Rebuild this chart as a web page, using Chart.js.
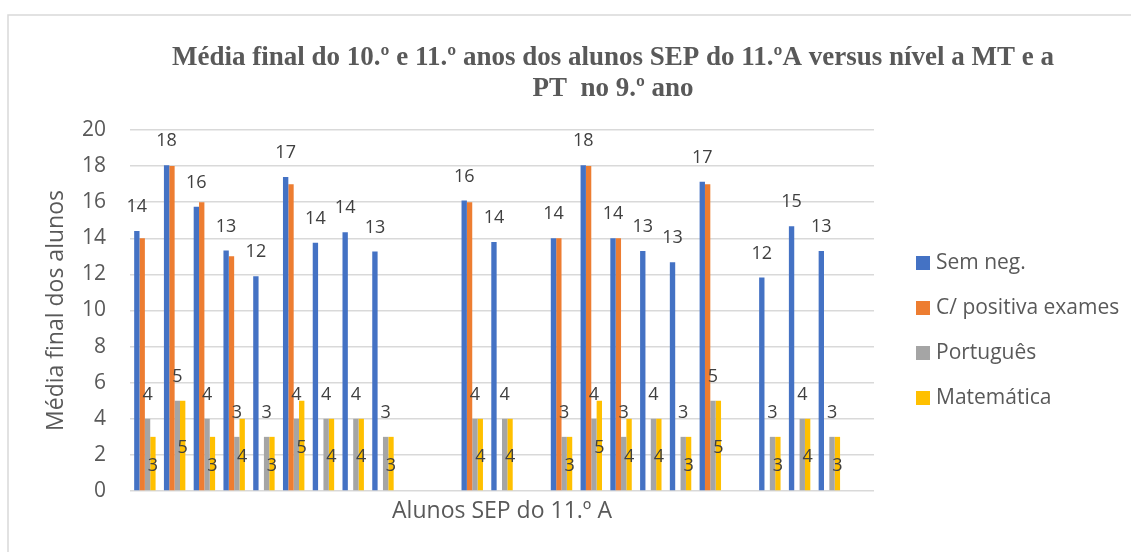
<!DOCTYPE html>
<html>
<head>
<meta charset="utf-8">
<script src="https://cdn.jsdelivr.net/npm/chart.js@4.4.1/dist/chart.umd.min.js"></script>
<style>
  html, body { margin: 0; padding: 0; background: #fff; overflow: hidden; }
  #wrap { position: relative; width: 1131px; height: 552px; }
</style>
</head>
<body>
<div id="wrap"><canvas id="chart"></canvas></div>
<script>
// students (no labels shown on the axis in the original)
const categories = ["1", "2", "3", "4", "5", "6", "7", "8", "9", "10", "11", "12", "13",
  "14", "15", "16", "17", "18", "19", "20", "21", "22", "23", "24", "25"];

// values
const semNeg = [14.4, 18.05, 15.75, 13.33, 11.9, 17.4, 13.75, 14.33, 13.27, null, null, 16.1, 13.8,
  null, 14, 18.05, 14, 13.3, 12.67, 17.13, null, 11.83, 14.67, 13.3, null];
const positivaExames = [14, 18, 16, 13, null, 17, null, null, null, null, null, 16, null,
  null, 14, 18, 14, null, null, 17, null, null, null, null, null];
const portugues = [4, 5, 4, 3, 3, 4, 4, 4, 3, null, null, 4, 4,
  null, 3, 4, 3, 4, 3, 5, null, 3, 4, 3, null];
const matematica = [3, 5, 3, 4, 3, 5, 4, 4, 3, null, null, 4, 4,
  null, 3, 5, 4, 4, 3, 5, null, 3, 4, 3, null];

const seriesNames = ["Sem neg.", "C/ positiva exames", "Português", "Matemática"];
const yTicks = [0, 2, 4, 6, 8, 10, 12, 14, 16, 18, 20];

const titleLines = ["Média final do 10.º e 11.º anos dos alunos SEP do 11.ºA versus nível a MT e a", "PT  no 9.º ano"];

Chart.defaults.font.family = "'Open Sans', sans-serif";
Chart.defaults.color = "#595959";

// frame, title and legend (Excel style)
const decorations = {
  id: "decorations",
  beforeDraw(chart) {
    const ctx = chart.ctx;
    ctx.save();
    ctx.strokeStyle = "#d9d9d9";
    ctx.lineWidth = 1.5;
    ctx.beginPath();
    ctx.moveTo(8, chart.height);
    ctx.lineTo(8, 15);
    ctx.lineTo(chart.width, 15);
    ctx.stroke();
    ctx.restore();
  },
  afterDraw(chart) {
    const ctx = chart.ctx;
    ctx.save();
    // title
    ctx.fillStyle = "#595959";
    ctx.font = "bold 27px 'Liberation Serif', serif";
    ctx.textAlign = "center";
    ctx.textBaseline = "alphabetic";
    titleLines.forEach((line, i) => ctx.fillText(line, 613, 65 + i * 31));
    // legend
    ctx.font = "21px 'Open Sans', sans-serif";
    ctx.textAlign = "left";
    ctx.textBaseline = "middle";
    chart.data.datasets.forEach((ds, i) => {
      const y = 263 + i * 45;
      ctx.fillStyle = ds.backgroundColor;
      ctx.fillRect(916, y - 7, 14, 14);
      ctx.fillStyle = "#595959";
      ctx.fillText(ds.label, 936, y);
    });
    ctx.restore();
  }
};

// data labels: blue and grey above the bar, yellow centred in the bar
const dataLabels = {
  id: "dataLabels",
  afterDatasetsDraw(chart) {
    const ctx = chart.ctx;
    ctx.save();
    ctx.font = "18px 'Open Sans', sans-serif";
    ctx.fillStyle = "#404040";
    ctx.textAlign = "center";
    ctx.textBaseline = "middle";
    [0, 2, 3].forEach(di => {
      const meta = chart.getDatasetMeta(di);
      const values = chart.data.datasets[di].data;
      meta.data.forEach((bar, i) => {
        const v = values[i];
        if (v === null || v === undefined) return;
        const txt = String(Math.round(v));
        const y = di === 3 ? (bar.y + bar.base) / 2 + 2 : bar.y - 24;
        ctx.fillText(txt, bar.x, y);
      });
    });
    ctx.restore();
  }
};

new Chart(document.getElementById("chart"), {
  type: "bar",
  data: {
    labels: categories,
    datasets: [
      { label: seriesNames[0], data: semNeg, backgroundColor: "#4472C4" },
      { label: seriesNames[1], data: positivaExames, backgroundColor: "#ED7D31" },
      { label: seriesNames[2], data: portugues, backgroundColor: "#A5A5A5" },
      { label: seriesNames[3], data: matematica, backgroundColor: "#FFC000" }
    ]
  },
  options: {
    responsive: true,
    maintainAspectRatio: false,
    animation: false,
    layout: { padding: { left: 40, right: 257, top: 130, bottom: 21 } },
    datasets: {
      bar: { categoryPercentage: 0.72, barPercentage: 1.0 }
    },
    plugins: {
      legend: { display: false },
      title: { display: false },
      tooltip: { enabled: false }
    },
    scales: {
      x: {
        grid: { display: false },
        border: { display: false },
        ticks: { display: false },
        title: {
          display: true,
          text: "Alunos SEP do 11.º A",
          color: "#595959",
          font: { size: 23 },
          padding: { top: 4, bottom: 6 }
        },
        afterFit(scale) { scale.height = 40; }
      },
      y: {
        min: 0,
        max: 20,
        afterBuildTicks(scale) { scale.ticks = yTicks.map(v => ({ value: v })); },
        grid: { color: "#d9d9d9", lineWidth: 1.5, drawTicks: false },
        border: { display: false },
        ticks: { color: "#595959", font: { size: 21 }, padding: 24 },
        title: {
          display: true,
          text: "Média final dos alunos",
          color: "#595959",
          font: { size: 23 },
          padding: { top: 3, bottom: 4 }
        },
        afterFit(scale) { scale.width = 90; }
      }
    }
  },
  plugins: [decorations, dataLabels]
});
</script>
</body>
</html>
